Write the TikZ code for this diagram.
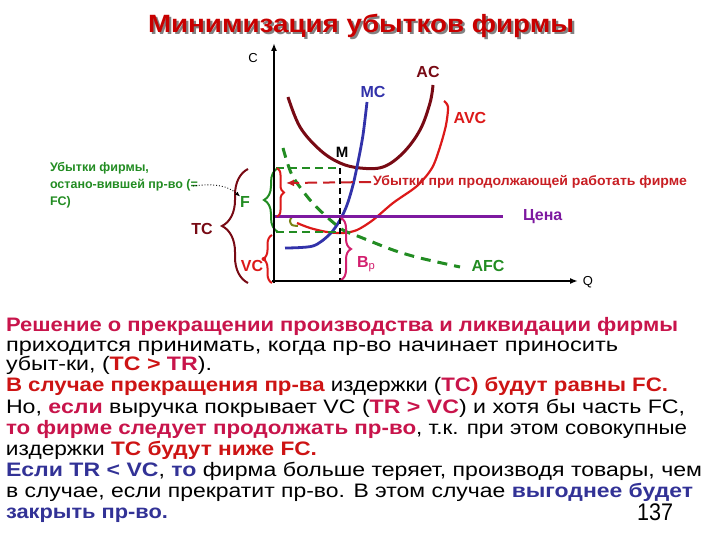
\documentclass[tikz,border=0pt]{standalone}
\usepackage{fontspec}
\setmainfont{Liberation Sans}
\usepackage{graphicx}
\usetikzlibrary{arrows.meta,decorations.pathreplacing}
\definecolor{crim}{RGB}{200,20,75}
\definecolor{tred}{RGB}{205,20,20}
\definecolor{navyb}{RGB}{50,50,150}
\definecolor{acc}{RGB}{120,10,20}
\definecolor{mcc}{RGB}{50,50,170}
\definecolor{avcc}{RGB}{220,25,25}
\definecolor{lossred}{RGB}{200,30,35}
\definecolor{pricec}{RGB}{125,25,160}
\definecolor{grn}{RGB}{34,140,34}
\definecolor{mag}{RGB}{210,30,110}
\definecolor{olv}{RGB}{120,130,20}
\definecolor{titleshadow}{RGB}{130,130,130}
\definecolor{titlered}{RGB}{200,0,0}
\newcommand{\shd}[2]{{\color{#1}\bfseries #2}}
\newcommand{\shdtitle}[2]{\rlap{\hspace{2pt}\raisebox{-2pt}{\color{titleshadow}\bfseries #2}}{\color{#1}\bfseries #2}}
\newcommand{\fitw}[2]{\resizebox{#1pt}{\height}{#2}}
\begin{document}
\begin{tikzpicture}[x=1pt,y=-1pt,
  every node/.style={inner sep=0pt,outer sep=0pt},
  lbl/.style={font=\fontsize{16}{18}\selectfont\bfseries},
  txtline/.style={anchor=base west,font=\fontsize{19.5}{22}\selectfont},
  axisline/.style={line width=2.2pt,-{Latex[length=8pt,width=6pt]}},
  curly/.style={decorate,decoration={brace,amplitude=#1},line width=2pt}]
\path[use as bounding box] (0,0) rectangle (720,540);

% title
\node[anchor=base west,font=\fontsize{25}{28}\selectfont] (title) at (148,33)
  {\fitw{426}{\shdtitle{titlered}{Минимизация убытков фирмы}}};

% curves
\draw[acc,line width=3pt] plot[smooth,tension=0.6] coordinates {(288,97) (300,127) (320,150) (340,163) (360,168) (383,167) (403,153) (420,130) (430,103) (433,85)};
\draw[avcc,line width=2.2pt] plot[smooth] coordinates {(444,101) (448,107) (446,125) (440,147) (432,168) (417,186) (393,203) (373,220) (357,230) (343,233) (327,232) (310,228) (297,223)};
\draw[olv,line width=2pt] plot[smooth] coordinates {(298,216) (292,217) (290,221) (292,225) (298,226)};
\draw[mcc,line width=2.8pt] plot[smooth] coordinates {(285,248) (313,246) (330,234) (340,220) (347,205) (353,185) (358,162) (363,135) (367,102)};
\draw[grn,line width=3pt,dash pattern=on 10pt off 7pt] plot[smooth] coordinates {(283,148) (292,175) (310,200) (327,217) (343,230) (360,237) (393,250) (420,258) (460,267)};

% price line
\node[lbl,text=pricec,anchor=west] (pricel) at (523,217) {Цена};
\coordinate (pricestart) at (274,217);
\draw[pricec,line width=3pt] (pricestart) -- (503,217);

% dashed rectangle
\draw[grn,line width=2.5pt,dash pattern=on 8pt off 5pt] (276,168) -- (340,168);
\draw[grn,line width=2.5pt,dash pattern=on 8pt off 5pt] (276,232) -- (340,232);
\node[lbl,text=black,font=\fontsize{15}{17}\selectfont\bfseries] (ml) at (342,152) {M};
\draw[black,line width=2.5pt,dash pattern=on 6pt off 4pt] (340,168) -- (340,281);

% braces
\draw[curly=26pt,draw=acc] (248,283) -- (248,169);
\draw[curly=14pt,draw=grn] (278,232) -- (278,168);
\draw[curly=7pt,draw=avcc] (277,168) -- (277,217);
\draw[curly=9pt,draw=avcc] (272,283) -- (272,235);
\fill[avcc] (264,259) circle (2.2pt);
\draw[curly=10pt,draw=mag] (341,218) -- (341,280);

% axes
\coordinate (ytop) at (274,43);
\coordinate (xend) at (578,281);
\draw[axisline] (274,283) -- (ytop);
\draw[axisline] (272,281) -- (xend);
\node[font=\fontsize{13}{15}\selectfont] (cl) at (253,58) {C};
\node[font=\fontsize{13}{15}\selectfont] (ql) at (588,282) {Q};

% labels
\node[lbl,text=mcc] (mcl) at (373,92) {MC};
\node[lbl,text=acc] (acl) at (428,72) {AC};
\node[lbl,text=avcc] (avcl) at (470,118) {AVC};
\node[lbl,text=grn] (afcl) at (488,266) {AFC};
\node[lbl,text=grn] (fl) at (245,202) {F};
\node[lbl,text=acc] (tcl) at (202,229) {TC};
\node[lbl,text=avcc] (vcl) at (252,266) {VC};
\node[lbl,text=mag,anchor=base west] (bpl) at (357,267) {В{\mdseries\textsubscript{р}}};

% loss note
\node[anchor=west,font=\fontsize{13.5}{15}\selectfont\bfseries,text=lossred] (lossnote) at (373,182)
  {\fitw{314}{Убытки при продолжающей работать фирме}};
\coordinate (lossarrowtip) at (286,183);
\draw[lossred,line width=2pt,dash pattern=on 12pt off 6pt,-{Latex[length=8pt,width=7pt]},shorten <=2pt] (lossnote.west) -- (lossarrowtip);

% green note
\node[anchor=north west,align=left,text=grn,font=\fontsize{12.5}{17}\selectfont\bfseries] (gtxt) at (50,162)
  {Убытки фирмы,\\остано-вившей пр-во (=\\FC)};
\coordinate (gtend) at (193,186);
\draw[dotted,line width=0.9pt,-{Latex[length=5pt,width=4pt]}] (gtend) .. controls (215,183) and (228,186) .. (fl.north west);

% text block
\node[txtline] (l1) at (6,331) {\fitw{672}{\shd{crim}{Решение о прекращении производства и ликвидации фирмы}}};
\node[txtline] (l2) at (6,351) {\fitw{612}{приходится принимать, когда пр-во начинает приносить}};
\node[txtline] (l3) at (6,370) {\fitw{206}{убыт-ки, (\shd{tred}{TC > }\shd{crim}{TR}).}};
\node[txtline] (l4) at (6,391) {\fitw{662}{\shd{tred}{В случае прекращения пр-ва} издержки (\shd{crim}{TC}\shd{tred}{) будут равны FC.}}};
\node[txtline] (l5) at (6,413) {\fitw{679}{Но, \shd{crim}{если} выручка покрывает VC (\shd{crim}{TR > VC}) и хотя бы часть FC,}};
\node[txtline] (l6) at (6,434) {\fitw{681}{\shd{crim}{то фирме следует продолжать пр-во}, т.к. при этом совокупные}};
\node[txtline] (l7) at (6,455) {\fitw{311}{издержки \shd{tred}{TC будут ниже FC.}}};
\node[txtline] (l8) at (6,476) {\fitw{696}{\shd{navyb}{Если TR < VC}, \shd{navyb}{то} фирма больше теряет, производя товары, чем}};
\node[txtline] (l9) at (6,497) {\fitw{687}{в случае, если прекратит пр-во. В этом случае \shd{navyb}{выгоднее будет}}};
\node[txtline] (l10) at (6,518) {\fitw{162}{\shd{navyb}{закрыть пр-во.}}};
\node[anchor=base west,font=\fontsize{24}{26}\selectfont] (pg) at (637,520) {\fitw{36}{137}};
\end{tikzpicture}
\end{document}
